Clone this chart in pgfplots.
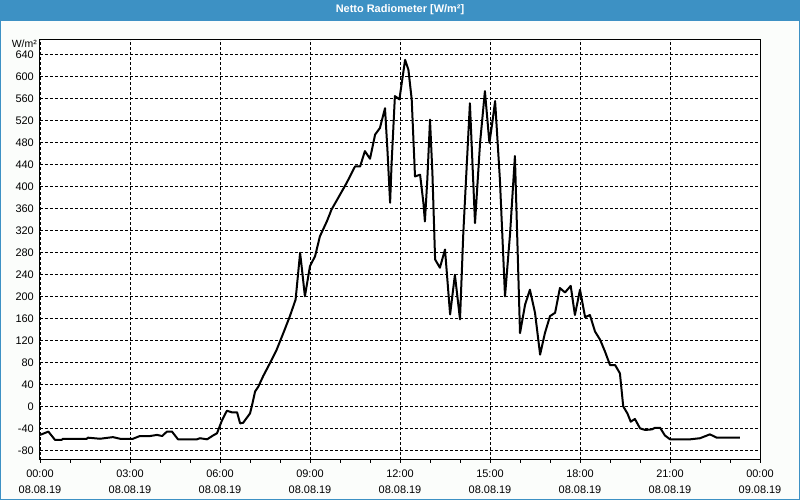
\documentclass[border=0pt]{standalone}
\usepackage{pgfplots}
\pgfplotsset{compat=1.18}
\usepackage{fontspec}
\setmainfont{Liberation Sans}
\definecolor{barblue}{RGB}{61,145,196}
\definecolor{bg}{RGB}{251,253,251}
\begin{document}
\begin{tikzpicture}[x=1bp,y=1bp]
\fill[bg] (-40,-40) rectangle (760,460);
\fill[barblue] (-40,439) rectangle (760,460);
\draw[barblue, line width=1.2bp] (-39.4,439) -- (-39.4,-39.4) -- (759.4,-39.4) -- (759.4,439);
\node[text=white, font=\bfseries\fontsize{11}{13}\selectfont] at (360,450) {Netto Radiometer [W/m²]};
\node[anchor=east, font=\fontsize{10.5}{12}\selectfont, inner sep=0] at (-3,416) {W/m²};
\begin{axis}[at={(0,0)}, anchor=south west, scale only axis, width=720bp, height=420bp,
  xmin=0, xmax=24, ymin=-97.6, ymax=666,
  axis background/.style={fill=white},
  axis line style={black, line width=1bp},
  xtick={0,3,...,24}, minor xtick={0,1,...,24},
  xticklabels={{00:00\\08.08.19},{03:00\\08.08.19},{06:00\\08.08.19},{09:00\\08.08.19},{12:00\\08.08.19},{15:00\\08.08.19},{18:00\\08.08.19},{21:00\\08.08.19},{00:00\\09.08.19}},
  ytick={-80,-40,...,640},
  yticklabels={-80,-40,0,40,80,120,160,200,240,280,320,360,400,440,480,520,560,600,640},
  xtick pos=bottom, ytick pos=left,
  tick align=outside,
  major tick length=3bp, minor tick length=3bp,
  every tick/.style={black, line width=0.8bp},
  ytick style={draw=none},
  grid=major,
  major grid style={black, dash pattern=on 3bp off 2bp, line width=0.8bp},
  xticklabel style={align=center, font=\fontsize{11}{16}\selectfont, inner sep=0pt, yshift=-7bp},
  yticklabel style={font=\fontsize{11}{12}\selectfont, inner sep=0pt, xshift=-3bp},
  clip=true,
]
\addplot[black, line width=2bp, line join=round] coordinates {
(0,-52) (0.28,-46) (0.5,-61) (0.72,-61) (0.77,-59) (1.0,-59) (1.56,-59) (1.6,-57)
(2.0,-59) (2.43,-56) (2.67,-59) (3.1,-59) (3.33,-54) (3.67,-54) (3.9,-52) (4.07,-54)
(4.23,-46) (4.4,-46) (4.6,-60) (5.23,-60) (5.33,-58) (5.57,-60) (5.77,-53) (5.9,-49)
(6.07,-25) (6.23,-8) (6.4,-11) (6.57,-11) (6.67,-31) (6.77,-30) (7.0,-13) (7.06,0)
(7.17,27) (7.28,36) (7.44,55) (7.67,79) (7.89,103) (8.11,133) (8.33,164) (8.52,194)
(8.67,279) (8.72,255) (8.83,200) (9.0,255) (9.17,273) (9.33,309) (9.56,336) (9.72,358)
(9.94,379) (10.22,406) (10.5,436) (10.67,436) (10.83,464) (11.0,450) (11.17,494) (11.33,506)
(11.5,542) (11.58,467) (11.67,370) (11.72,442) (11.83,564) (11.98,558) (12.17,630) (12.28,612)
(12.39,558) (12.5,418) (12.67,421) (12.78,370) (12.83,336) (12.91,412) (13.0,521) (13.08,424)
(13.17,267) (13.33,252) (13.5,285) (13.67,167) (13.83,239) (14.0,158) (14.11,315) (14.33,551)
(14.5,333) (14.67,480) (14.83,573) (14.98,479) (15.09,521) (15.17,555) (15.33,412) (15.5,200)
(15.67,315) (15.83,455) (16.0,133) (16.17,185) (16.33,212) (16.5,170) (16.67,94) (16.83,133)
(17.0,164) (17.17,170) (17.33,215) (17.5,207) (17.69,219) (17.83,166) (18.0,212) (18.17,162)
(18.33,166) (18.5,136) (18.67,121) (18.83,100) (19.0,75) (19.17,75) (19.33,60) (19.44,0)
(19.58,-13) (19.69,-28) (19.83,-23) (20.0,-40) (20.17,-43) (20.39,-42) (20.5,-39) (20.67,-39)
(20.83,-53) (21.0,-60) (21.33,-60) (21.67,-60) (22.0,-58) (22.33,-51) (22.56,-57) (23.0,-57)
(23.33,-57)
};
\end{axis}
\end{tikzpicture}
\end{document}
